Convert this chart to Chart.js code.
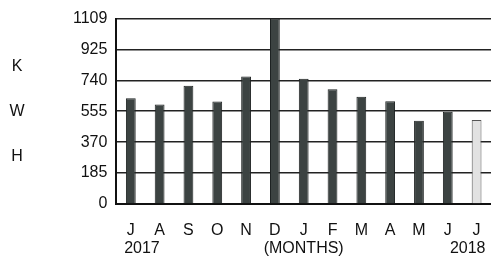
<!DOCTYPE html>
<html>
<head>
<meta charset="utf-8">
<script src="https://cdn.jsdelivr.net/npm/chart.js@4.4.1/dist/chart.umd.min.js"></script>
<style>
  html, body { margin: 0; padding: 0; background: #fff; }
  #wrap { width: 491px; height: 258px; }
</style>
</head>
<body>
<div id="wrap"><canvas id="kwhChart" width="491" height="258"></canvas></div>
<script>
// monthly usage, Jul 2017 - Jul 2018
// (spaces nudge the year captions off-centre like the original)
const months = [['J', '     2017'], 'A', 'S', 'O', 'N', 'D', ['J', '(MONTHS)'], 'F', 'M', 'A', 'M', 'J', ['J', '2018    ']];
const kwh = [633, 595, 708, 613, 763, 1109, 749, 686, 641, 615, 498, 552, 502];
const yTicks = [0, 185, 370, 555, 740, 925, 1109];
const unitLetters = ['K', 'W', 'H'];

const barFill = kwh.map((v, i) => i === kwh.length - 1 ? '#e2e2e2' : '#3c4342');
const barEdge = kwh.map((v, i) => i === kwh.length - 1 ? '#555' : '#1e2222');
const tickFont = { family: '"Liberation Sans", Arial, sans-serif', size: 16 };

// stacked "K W H" down the left side
const unitLabel = {
    id: 'unitLabel',
    afterDraw(chart) {
        const c = chart.ctx;
        const area = chart.chartArea;
        const mid = (area.top + area.bottom) / 2;
        c.save();
        c.fillStyle = '#111';
        c.font = '16px "Liberation Sans", Arial, sans-serif';
        c.textAlign = 'center';
        c.textBaseline = 'middle';
        unitLetters.forEach((t, i) => c.fillText(t, 17, mid + (i - 1) * 45));
        c.restore();
    }
};

const ctx = document.getElementById('kwhChart').getContext('2d');
new Chart(ctx, {
    type: 'bar',
    data: {
        labels: months,
        datasets: [{
            data: kwh,
            backgroundColor: barFill,
            borderColor: barEdge,
            borderWidth: 1,
            barPercentage: 0.34,
            categoryPercentage: 1
        }]
    },
    options: {
        responsive: false,
        animation: false,
        layout: { padding: { left: 64, top: 8, right: 0, bottom: 0 } },
        plugins: { legend: { display: false }, tooltip: { enabled: false } },
        scales: {
            x: {
                grid: { display: false },
                border: { display: true, color: '#111', width: 2 },
                afterFit: axis => {
                    axis.height = 54;
                    axis.paddingLeft = 0;
                    axis.paddingRight = 0;
                },
                ticks: {
                    color: '#111',
                    padding: 10,
                    maxRotation: 0,
                    autoSkip: false,
                    font: { ...tickFont, lineHeight: 1.1 }
                }
            },
            y: {
                min: 0,
                max: 1109,
                afterBuildTicks: axis => { axis.ticks = yTicks.map(v => ({ value: v })); },
                grid: { color: '#222', lineWidth: 1.5, drawTicks: false },
                border: { display: true, color: '#111', width: 2 },
                ticks: {
                    color: '#111',
                    padding: 9,
                    font: tickFont,
                    callback: v => String(v)
                }
            }
        }
    },
    plugins: [unitLabel]
});
</script>
</body>
</html>
